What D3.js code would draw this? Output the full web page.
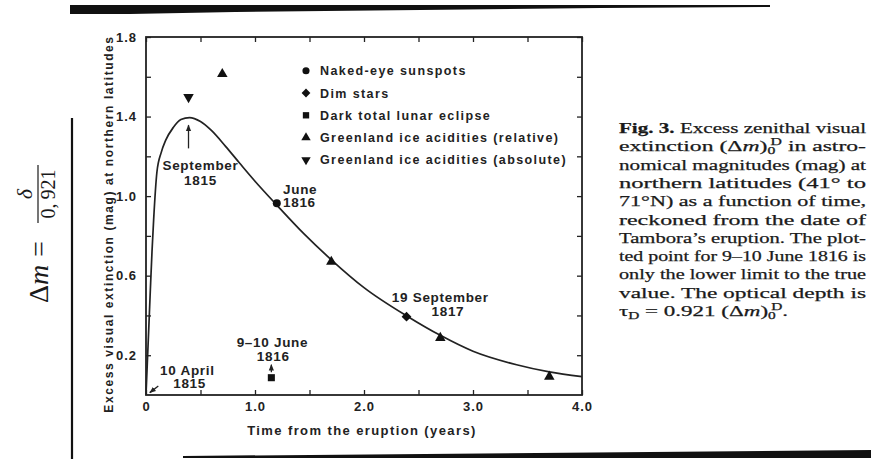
<!DOCTYPE html>
<html>
<head>
<meta charset="utf-8">
<script src="https://cdn.jsdelivr.net/npm/d3@7"></script>
<style>
body { margin: 0; background: #fff; }
svg { display: block; }
.sans { font-family: "Liberation Sans", Arial, sans-serif; font-weight: bold; fill: #222; }
.serif { font-family: "Liberation Serif", "Times New Roman", serif; fill: #1a1a1a; }
</style>
</head>
<body>
<div id="chart"></div>
<script>
// fitted extinction curve
const curveT   = [0, 0.012, 0.025, 0.04, 0.055, 0.07, 0.1, 0.14, 0.18, 0.25, 0.32, 0.4, 0.5, 0.6, 0.73, 0.86, 1.0, 1.2, 1.45, 1.7, 2.0, 2.4, 2.7, 3.0, 3.4, 3.7, 4.0];
const curveMag = [0, 0.16, 0.33, 0.53, 0.72, 0.88, 1.12, 1.22, 1.28, 1.345, 1.385, 1.395, 1.375, 1.33, 1.25, 1.165, 1.075, 0.955, 0.81, 0.68, 0.54, 0.395, 0.30, 0.22, 0.152, 0.116, 0.092];

// observations
const sunspotT = [1.2],   sunspotMag = [0.964];
const dimStarT = [2.39],  dimStarMag = [0.394];
const eclipseT = [1.15],  eclipseMag = [0.087];
const iceRelT  = [0.70, 1.70, 2.70, 3.70], iceRelMag = [1.614, 0.67, 0.287, 0.092];
const iceAbsT  = [0.39],  iceAbsMag  = [1.498];

const legendNames = ["Naked-eye sunspots", "Dim stars", "Dark total lunar eclipse",
                     "Greenland ice acidities (relative)", "Greenland ice acidities (absolute)"];

// axis ticks
const xTicks = [0, 0.5, 1, 1.5, 2, 2.5, 3, 3.5, 4];
const xLabels = {0: "0", 1: "1.0", 2: "2.0", 3: "3.0", 4: "4.0"};
const yTicks = [0.2, 0.4, 0.6, 0.8, 1.0, 1.2, 1.4, 1.6, 1.8];
const yLabels = {0.2: "0.2", 0.6: "0.6", 1.0: "1.0", 1.4: "1.4", 1.8: "1.8"};

// annotations (data coordinates)
const annoText   = ["September", "1815", "June", "1816", "19 September", "1817", "9\u201310 June", "1816", "10 April", "1815"];
const annoT      = [0.50, 0.50, 1.257, 1.257, 2.70, 2.77, 1.16, 1.167, 0.38, 0.40];
const annoMag    = [1.131, 1.056, 1.011, 0.945, 0.468, 0.397, 0.241, 0.171, 0.10, 0.035];
const annoAnchor = ["middle", "middle", "start", "start", "middle", "middle", "middle", "middle", "middle", "middle"];

// arrows [t1, m1, t2, m2]
const arrows = [[0.39, 1.24, 0.39, 1.357], [1.15, 0.115, 1.15, 0.152], [0.113, 0.045, 0.035, 0.012]];

const captionLines = [
  [["Fig. 3.", "b"], [" Excess zenithal visual", ""]],
  [["extinction (\u0394", ""], ["m", "i"], [")", ""], ["0", "sub"], ["D", "sup"], [" in astro-", ""]],
  [["nomical magnitudes (mag) at", ""]],
  [["northern latitudes (41\u00b0 to", ""]],
  [["71\u00b0N) as a function of time,", ""]],
  [["reckoned from the date of", ""]],
  [["Tambora\u2019s eruption. The plot-", ""]],
  [["ted point for 9\u201310 June 1816 is", ""]],
  [["only the lower limit to the true", ""]],
  [["value. The optical depth is", ""]],
  [["\u03c4", ""], ["D", "sub"], [" = 0.921 (\u0394", ""], ["m", "i"], [")", ""], ["0", "sub"], ["D", "sup"], [".", ""]]
];

const W = 871, H = 459;
const svg = d3.select("#chart").append("svg").attr("width", W).attr("height", H);

svg.append("defs").append("marker")
  .attr("id", "head").attr("viewBox", "0 0 10 10")
  .attr("refX", 9).attr("refY", 5)
  .attr("markerWidth", 5).attr("markerHeight", 5)
  .attr("orient", "auto")
  .append("path").attr("d", "M0,1 L10,5 L0,9 Z").attr("fill", "#222");

// scan borders
svg.append("path").attr("d", "M70,5 L770,5 L770,7 L600,8 L420,10 L235,12 L130,14 L70,14 Z").attr("fill", "#111");
svg.append("path").attr("d", "M183,456 L871,450 L871,458 L183,458 Z").attr("fill", "#111");
svg.append("line").attr("x1", 72).attr("x2", 72).attr("y1", 118).attr("y2", 459)
  .attr("stroke", "#111").attr("stroke-width", 2.2);

// formula
const f = svg.append("g").attr("class", "serif").attr("transform", "translate(48,303) rotate(-90)");
const fm = f.append("text").attr("x", 0).attr("y", 0).style("font-size", "28px");
fm.append("tspan").text("\u0394");
fm.append("tspan").style("font-style", "italic").text("m");
f.append("text").attr("x", 46).attr("y", 0).style("font-size", "28px").text("=");
f.append("line").attr("x1", 80).attr("x2", 138).attr("y1", -10).attr("y2", -10)
  .attr("stroke", "#1a1a1a").attr("stroke-width", 1.2);
f.append("text").attr("x", 109).attr("y", -16).attr("text-anchor", "middle")
  .style("font-size", "22px").style("font-style", "italic").text("\u03b4");
f.append("text").attr("x", 109).attr("y", 7).attr("text-anchor", "middle")
  .style("font-size", "20px").text("0,\u2009921");

// plot
const x = d3.scaleLinear().domain([0, 4]).range([146, 582]);
const y = d3.scaleLinear().domain([0, 1.8]).range([395, 37]);

function styleAxis(g) {
  g.select(".domain").remove();
  g.selectAll(".tick line").attr("stroke", "#222").attr("stroke-width", 1.3);
  g.selectAll(".tick text").attr("class", "sans").attr("fill", "#222")
    .style("font-size", "13px").style("letter-spacing", "1px");
}

svg.append("g").attr("transform", `translate(0,${y(0)})`)
  .call(d3.axisBottom(x).tickValues(xTicks).tickSize(-5).tickPadding(7).tickFormat(d => xLabels[d] || ""))
  .call(styleAxis);
svg.append("g").attr("transform", `translate(0,${y(1.8)})`)
  .call(d3.axisTop(x).tickValues(xTicks).tickSize(-5).tickFormat(""))
  .call(styleAxis);
svg.append("g").attr("transform", `translate(${x(0)},0)`)
  .call(d3.axisLeft(y).tickValues(yTicks).tickSize(-5).tickPadding(9).tickFormat(d => yLabels[d] || ""))
  .call(styleAxis);
svg.append("g").attr("transform", `translate(${x(4)},0)`)
  .call(d3.axisRight(y).tickValues(yTicks).tickSize(-5).tickFormat(""))
  .call(styleAxis);

svg.append("rect")
  .attr("x", x(0)).attr("y", y(1.8))
  .attr("width", x(4) - x(0)).attr("height", y(0) - y(1.8))
  .attr("fill", "none").attr("stroke", "#222").attr("stroke-width", 1.8);

// axis titles
svg.append("text").attr("class", "sans")
  .attr("x", (x(0) + x(4)) / 2 - 2).attr("y", 435).attr("text-anchor", "middle")
  .style("font-size", "13px").style("letter-spacing", "1.4px")
  .text("Time from the eruption (years)");
svg.append("text").attr("class", "sans")
  .attr("transform", `translate(113,224) rotate(-90)`).attr("text-anchor", "middle")
  .style("font-size", "12px").style("letter-spacing", "1.6px")
  .text("Excess visual extinction (mag) at northern latitudes");

// curve
const line = d3.line().x((d, i) => x(curveT[i])).y(d => y(d)).curve(d3.curveMonotoneX);
svg.append("path").datum(curveMag).attr("d", line)
  .attr("fill", "none").attr("stroke", "#222").attr("stroke-width", 1.7);

// markers (diamond = square turned 45 degrees)
const series = [
  {t: sunspotT, m: sunspotMag, type: d3.symbolCircle, size: 50, rot: 0},
  {t: dimStarT, m: dimStarMag, type: d3.symbolSquare, size: 48, rot: 45},
  {t: eclipseT, m: eclipseMag, type: d3.symbolSquare, size: 50, rot: 0},
  {t: iceRelT, m: iceRelMag, type: d3.symbolTriangle, size: 48, rot: 0},
  {t: iceAbsT, m: iceAbsMag, type: d3.symbolTriangle, size: 48, rot: 180}
];
series.forEach(s => {
  svg.append("g").selectAll("path").data(s.m).enter().append("path")
    .attr("d", d3.symbol().type(s.type).size(s.size))
    .attr("transform", (d, i) => `translate(${x(s.t[i])},${y(d)}) rotate(${s.rot})`)
    .attr("fill", "#111");
});

// legend
const lg = svg.append("g").selectAll("g").data(legendNames).enter().append("g")
  .attr("transform", (d, i) => `translate(306,${70.7 + i * 22.3})`);
lg.append("path")
  .attr("d", (d, i) => d3.symbol().type(series[i].type).size(series[i].size * 0.8)())
  .attr("transform", (d, i) => `rotate(${series[i].rot})`)
  .attr("fill", "#111");
lg.append("text").attr("class", "sans").attr("x", 14).attr("y", 4.5)
  .style("font-size", "12.5px").style("letter-spacing", "1.4px")
  .text(d => d);

// annotations
svg.append("g").selectAll("text").data(annoText).enter().append("text")
  .attr("class", "sans")
  .attr("x", (d, i) => x(annoT[i])).attr("y", (d, i) => y(annoMag[i]))
  .attr("text-anchor", (d, i) => annoAnchor[i])
  .style("font-size", "13.5px").style("letter-spacing", "0.7px")
  .text(d => d);

svg.append("g").selectAll("line").data(arrows).enter().append("line")
  .attr("x1", d => x(d[0])).attr("y1", d => y(d[1]))
  .attr("x2", d => x(d[2])).attr("y2", d => y(d[3]))
  .attr("stroke", "#222").attr("stroke-width", 1.3)
  .attr("marker-end", "url(#head)");

// caption, justified by stretching each line to the column width
const capW = 247, capLastW = 169, capX = 619, capY0 = 133, capDy = 18.3;
captionLines.forEach((segs, li) => {
  const t = svg.append("text").attr("class", "serif")
    .attr("x", capX).attr("y", capY0 + li * capDy)
    .style("font-size", "15px")
    .attr("stroke", "#1a1a1a").attr("stroke-width", 0.25);
  segs.forEach(([txt, st], si) => {
    const ts = t.append("tspan").text(txt);
    if (st === "b") ts.style("font-weight", "bold");
    if (st === "i") ts.style("font-style", "italic");
    if (st === "sub") ts.attr("dy", 3).style("font-size", "10px");
    if (st === "sup") ts.attr("dy", -9).attr("dx", -3).style("font-size", "10px");
    if (si > 0 && (segs[si - 1][1] === "sub" || segs[si - 1][1] === "sup") && st !== "sup") {
      ts.attr("dy", segs[si - 1][1] === "sup" ? 6 : -3);
    }
  });
  const last = li === captionLines.length - 1;
  t.attr("textLength", last ? capLastW : capW).attr("lengthAdjust", "spacingAndGlyphs");
});
</script>
</body>
</html>
